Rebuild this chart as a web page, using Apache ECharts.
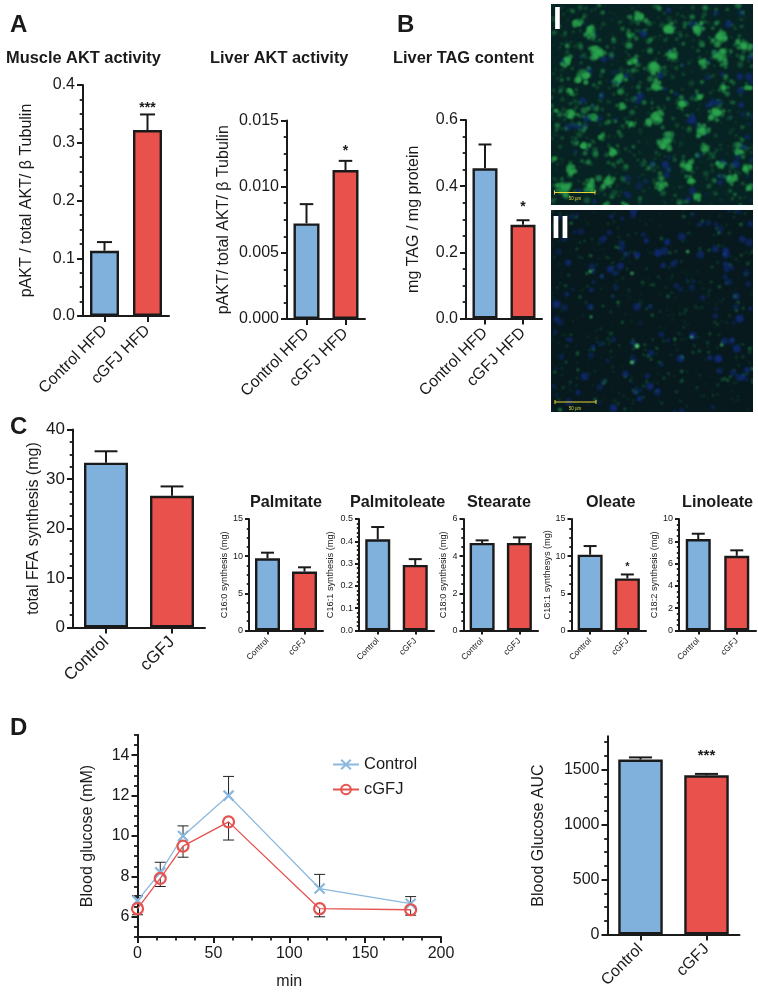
<!DOCTYPE html>
<html>
<head>
<meta charset="utf-8">
<style>html,body{margin:0;padding:0;background:#fff}#chart{width:758px;height:996px}</style>
<script src="https://cdn.jsdelivr.net/npm/echarts@6/dist/echarts.min.js"></script>
</head>
<body>
<div id="chart"></div>
<script>
// ---------- data ----------
const catHFD = ['Control HFD', 'cGFJ HFD'];
const catShort = ['Control', 'cGFJ'];

const muscleMean = [0.113, 0.322];   const muscleTop = [0.128, 0.349];   const muscleSig = ['', '***'];
const liverMean = [0.00722, 0.01125]; const liverTop = [0.00868, 0.01195]; const liverSig = ['', '*'];
const tagMean = [0.454, 0.283];      const tagTop = [0.526, 0.297];      const tagSig = ['', '*'];
const ffaMean = [33.3, 26.6];        const ffaTop = [35.6, 28.5];        const ffaSig = ['', ''];
const palmitateMean = [9.72, 7.93];  const palmitateTop = [10.47, 8.5];  const palmitateSig = ['', ''];
const palmitoleateMean = [0.409, 0.294]; const palmitoleateTop = [0.464, 0.32]; const palmitoleateSig = ['', ''];
const stearateMean = [4.71, 4.71];   const stearateTop = [4.85, 5.01];   const stearateSig = ['', ''];
const oleateMean = [10.2, 7.0];      const oleateTop = [11.36, 7.54];    const oleateSig = ['', '*'];
const linoleateMean = [8.2, 6.7];    const linoleateTop = [8.68, 7.19];  const linoleateSig = ['', ''];
const aucMean = [1590, 1447];        const aucTop = [1610, 1460];        const aucSig = ['', '***'];

const minutes = [0, 15, 30, 60, 120, 180];
const glucoseControl = [6.8, 8.2, 10.0, 12.0, 7.4, 6.65];
const glucoseControlUpper = [7.05, 8.7, 10.5, 12.95, 8.1, 7.0];
const glucoseCGFJ = [6.4, 7.9, 9.5, 10.7, 6.4, 6.35];
const glucoseCGFJLower = [6.1, 7.5, 8.95, 9.8, 6.0, 6.08];

const glucoseMajorTicks = [6, 8, 10, 12, 14];
const glucoseMinorTicks = [5, 5.5, 6.5, 7, 7.5, 8.5, 9, 9.5, 10.5, 11, 11.5, 12.5, 13, 13.5, 14.5, 15];
const aucMajorTicks = [0, 500, 1000, 1500];
const aucMinorTicks = [125, 250, 375, 625, 750, 875, 1125, 1250, 1375, 1625, 1750];

// ---------- style ----------
const FONT = '"Liberation Sans", Arial, sans-serif';
const INK = '#1a1a1a';
const BLUE = '#7fb1dc';
const RED = '#e9524c';
const LINE_BLUE = '#8ab8df';
const LINE_RED = '#e5524f';

const grid = [], xAxis = [], yAxis = [], series = [], title = [];

function addTitle(text, left, top, size) {
  title.push({ text, left, top, padding: 0, textStyle: { fontFamily: FONT, fontWeight: 'bold', fontSize: size, color: INK, lineHeight: size } });
}

function axisBase(fs) {
  return {
    axisLine: { show: true, onZero: false, lineStyle: { color: INK, width: 2 } },
    axisLabel: { color: INK, fontFamily: FONT, fontSize: fs, margin: 6 },
    splitLine: { show: false }
  };
}

function barPanel(p) {
  const i = grid.length;
  const xId = xAxis.length, yId = yAxis.length;
  grid.push({ left: p.x0, top: p.y1, width: p.x1 - p.x0, height: p.y0 - p.y1, containLabel: false });
  const b = axisBase(p.fs);
  xAxis.push({
    type: 'category', gridIndex: i, data: p.cats,
    axisLine: b.axisLine,
    axisTick: { show: true, alignWithLabel: true, length: p.tick, lineStyle: { color: INK, width: 2 } },
    axisLabel: { color: INK, fontFamily: FONT, fontSize: p.xfs, rotate: 45, margin: p.xm, interval: 0 }
  });
  const dec = p.dec;
  yAxis.push({
    type: 'value', gridIndex: i, min: 0, max: p.max, position: 'left',
    interval: p.custom ? undefined : p.step,
    axisLine: b.axisLine,
    axisTick: p.custom ? { show: true, length: p.tick, customValues: p.custom.major, lineStyle: { color: INK, width: 2 } }
                       : { show: true, length: p.tick, lineStyle: { color: INK, width: 2 } },
    minorTick: p.custom ? { show: false } : { show: true, splitNumber: p.minor, length: p.tick * 0.55, lineStyle: { color: INK, width: 1.8 } },
    splitLine: { show: false },
    minorSplitLine: { show: false },
    axisLabel: Object.assign({}, b.axisLabel, { margin: p.ym, formatter: v => v.toFixed(dec) }, p.custom ? { customValues: p.custom.major } : {}),
    name: p.yname, nameLocation: 'middle', nameGap: p.nameGap, nameRotate: 90,
    nameTextStyle: { color: INK, fontFamily: FONT, fontSize: p.nfs }
  });
  if (p.custom) {
    yAxis.push({
      type: 'value', gridIndex: i, min: 0, max: p.max, position: 'left',
      axisLine: b.axisLine,
      axisTick: { show: true, length: p.tick * 0.55, customValues: p.custom.minor, lineStyle: { color: INK, width: 1.8 } },
      axisLabel: { show: false }, splitLine: { show: false }
    });
  }
  series.push({
    type: 'bar', xAxisIndex: xId, yAxisIndex: yId, barWidth: p.bw, z: 3,
    data: p.mean.map((v, k) => ({ value: v, itemStyle: { color: k === 0 ? BLUE : RED, borderColor: INK, borderWidth: 2.4 } }))
  });
  const cap = p.bw * 0.26;
  series.push({
    type: 'custom', xAxisIndex: xId, yAxisIndex: yId, z: 2,
    data: p.mean.map((v, k) => [k, v, p.top[k]]),
    encode: { x: 0, y: [1, 2] },
    renderItem: (params, api) => {
      const a = api.coord([api.value(0), api.value(1)]);
      const t = api.coord([api.value(0), api.value(2)]);
      const st = { stroke: INK, lineWidth: 2, fill: 'none' };
      const kids = [
        { type: 'line', shape: { x1: a[0], y1: a[1], x2: a[0], y2: t[1] }, style: st },
        { type: 'line', shape: { x1: a[0] - cap, y1: t[1], x2: a[0] + cap, y2: t[1] }, style: st }
      ];
      const s = p.sig[params.dataIndex];
      if (s) kids.push({ type: 'text', style: { text: s, x: a[0], y: t[1] + p.sigDy, align: 'center', verticalAlign: 'bottom', fill: INK, font: 'bold ' + p.sigFs + 'px ' + FONT } });
      return { type: 'group', children: kids };
    }
  });
}

const big = { fs: 16, xfs: 16, xm: 12, ym: 8, tick: 6, nfs: 16 };
barPanel(Object.assign({}, big, { x0: 83, x1: 169, y1: 85, y0: 316, cats: catHFD, max: 0.4, step: 0.1, minor: 4, dec: 1, bw: 29, mean: muscleMean, top: muscleTop, sig: muscleSig, sigDy: 1, sigFs: 14, yname: 'pAKT / total AKT/ β Tubulin', nameGap: 48 }));
barPanel(Object.assign({}, big, { x0: 287, x1: 365, y1: 120.5, y0: 319, cats: catHFD, max: 0.015, step: 0.005, minor: 4, dec: 3, bw: 26, mean: liverMean, top: liverTop, sig: liverSig, sigDy: -3, sigFs: 14, yname: 'pAKT/ total AKT/ β Tubulin', nameGap: 55 }));
barPanel(Object.assign({}, big, { x0: 466, x1: 542, y1: 120, y0: 318.5, cats: catHFD, max: 0.6, step: 0.2, minor: 4, dec: 1, bw: 25, mean: tagMean, top: tagTop, sig: tagSig, sigDy: -6, sigFs: 14, yname: 'mg TAG / mg protein', nameGap: 44 }));
barPanel(Object.assign({}, big, { x0: 73, x1: 205, y1: 429.5, y0: 627.5, cats: catShort, max: 40, step: 10, minor: 4, dec: 0, bw: 44, mean: ffaMean, top: ffaTop, sig: ffaSig, sigDy: 0, sigFs: 14, fs: 17, xfs: 17, yname: 'total FFA synthesis (mg)', nameGap: 31, nfs: 16 }));

const small = { fs: 9, xfs: 8.5, xm: 9, ym: 6, tick: 4, nfs: 9.2, cats: catShort, y1: 519, y0: 630.5, bw: 25 };
barPanel(Object.assign({}, small, { x0: 249, x1: 323, max: 15, step: 5, minor: 4, dec: 0, mean: palmitateMean, top: palmitateTop, sig: palmitateSig, sigDy: 0, sigFs: 9, yname: 'C16:0 synthesis (mg)', nameGap: 17.7 }));
barPanel(Object.assign({}, small, { x0: 359, x1: 434, max: 0.5, step: 0.1, minor: 5, dec: 1, mean: palmitoleateMean, top: palmitoleateTop, sig: palmitoleateSig, sigDy: 0, sigFs: 9, yname: 'C16:1 synthesis (mg)', nameGap: 23.7 }));
barPanel(Object.assign({}, small, { x0: 463.5, x1: 538, max: 6, step: 2, minor: 4, dec: 0, mean: stearateMean, top: stearateTop, sig: stearateSig, sigDy: 0, sigFs: 9, yname: 'C18:0 synthesis (mg)', nameGap: 16 }));
barPanel(Object.assign({}, small, { x0: 571.5, x1: 646, max: 15, step: 5, minor: 4, dec: 0, mean: oleateMean, top: oleateTop, sig: oleateSig, sigDy: -2, sigFs: 11, yname: 'C18:1 synthesys (mg)', nameGap: 15 }));
barPanel(Object.assign({}, small, { x0: 679, x1: 756, max: 10, step: 2, minor: 4, dec: 0, mean: linoleateMean, top: linoleateTop, sig: linoleateSig, sigDy: 0, sigFs: 9, yname: 'C18:2 synthesis (mg)', nameGap: 13.7 }));

barPanel(Object.assign({}, big, { x0: 607.5, x1: 739.5, y1: 736.5, y0: 934.5, cats: catShort, max: 1800, custom: { major: aucMajorTicks, minor: aucMinorTicks }, dec: 0, bw: 44.5, mean: aucMean, top: aucTop, sig: aucSig, sigDy: -11, sigFs: 15, fs: 16, xfs: 16, yname: 'Blood Glucose AUC', nameGap: 61 }));

// --- glucose time course ---
(function () {
  const i = grid.length, xId = xAxis.length, yId = yAxis.length;
  grid.push({ left: 137.5, top: 735, width: 303.5, height: 202, containLabel: false });
  const line = { show: true, onZero: false, lineStyle: { color: INK, width: 2 } };
  xAxis.push({
    type: 'value', gridIndex: i, min: 0, max: 200, interval: 50,
    axisLine: line,
    axisTick: { show: true, length: 6, lineStyle: { color: INK, width: 2 } },
    minorTick: { show: true, splitNumber: 4, length: 3.5, lineStyle: { color: INK, width: 1.8 } },
    axisLabel: { color: INK, fontFamily: FONT, fontSize: 16, margin: 9 },
    splitLine: { show: false }, minorSplitLine: { show: false },
    name: 'min', nameLocation: 'middle', nameGap: 37,
    nameTextStyle: { color: INK, fontFamily: FONT, fontSize: 16 }
  });
  yAxis.push({
    type: 'value', gridIndex: i, min: 5, max: 15, position: 'left',
    axisLine: line,
    axisTick: { show: true, length: 6, customValues: glucoseMajorTicks, lineStyle: { color: INK, width: 2 } },
    axisLabel: { color: INK, fontFamily: FONT, fontSize: 16, margin: 8, customValues: glucoseMajorTicks },
    splitLine: { show: false },
    name: 'Blood glucose (mM)', nameLocation: 'middle', nameGap: 41.5,
    nameTextStyle: { color: INK, fontFamily: FONT, fontSize: 16 }
  });
  yAxis.push({
    type: 'value', gridIndex: i, min: 5, max: 15, position: 'left',
    axisLine: line,
    axisTick: { show: true, length: 3.5, customValues: glucoseMinorTicks, lineStyle: { color: INK, width: 1.8 } },
    axisLabel: { show: false }, splitLine: { show: false }
  });
  const errSeries = (mid, end) => ({
    type: 'custom', xAxisIndex: xId, yAxisIndex: yId, z: 2, tooltip: { show: false },
    data: minutes.map((m, k) => [m, mid[k], end[k]]),
    encode: { x: 0, y: [1, 2] },
    renderItem: (params, api) => {
      const a = api.coord([api.value(0), api.value(1)]);
      const t = api.coord([api.value(0), api.value(2)]);
      const st = { stroke: '#222', lineWidth: 1, fill: 'none' };
      return { type: 'group', children: [
        { type: 'line', shape: { x1: a[0], y1: a[1], x2: a[0], y2: t[1] }, style: st },
        { type: 'line', shape: { x1: a[0] - 5.5, y1: t[1], x2: a[0] + 5.5, y2: t[1] }, style: st }
      ] };
    }
  });
  series.push(errSeries(glucoseControl, glucoseControlUpper));
  series.push(errSeries(glucoseCGFJ, glucoseCGFJLower));
  series.push({
    name: 'Control', type: 'line', xAxisIndex: xId, yAxisIndex: yId, z: 3,
    data: minutes.map((m, k) => [m, glucoseControl[k]]),
    symbol: 'path://M0 0L10 10M10 0L0 10', symbolSize: 10,
    lineStyle: { color: LINE_BLUE, width: 1.3 },
    itemStyle: { color: 'rgba(0,0,0,0)', borderColor: LINE_BLUE, borderWidth: 2.2 },
    emphasis: { disabled: true }
  });
  series.push({
    name: 'cGFJ', type: 'line', xAxisIndex: xId, yAxisIndex: yId, z: 4,
    data: minutes.map((m, k) => [m, glucoseCGFJ[k]]),
    symbol: 'circle', symbolSize: 11,
    lineStyle: { color: LINE_RED, width: 1.3 },
    itemStyle: { color: 'rgba(0,0,0,0)', borderColor: LINE_RED, borderWidth: 2.2 },
    emphasis: { disabled: true }
  });
})();

// --- panel letters and headings ---
addTitle('A', 10, 13, 24);
addTitle('B', 397, 13, 24);
addTitle('C', 10, 415, 24);
addTitle('D', 10, 716, 24);
addTitle('Muscle AKT activity', 6, 50, 16.4);
addTitle('Liver AKT activity', 210, 50, 16.4);
addTitle('Liver TAG content', 393, 50, 16.4);
addTitle('Palmitate', 250, 494, 16.2);
addTitle('Palmitoleate', 350, 494, 16.2);
addTitle('Stearate', 467, 494, 16.2);
addTitle('Oleate', 586, 494, 16.2);
addTitle('Linoleate', 682, 494, 16.2);

// --- micrographs: a painted stand-in for the two photographs (texture only, not chart data) ---
const photoIBlobs = [[440,75,22],[350,75,22],[265,40,20],[120,80,20],[235,95,12],[80,55,15],[510,100,25],[580,125,22],[510,160,22],[455,178,16],[365,155,18],[140,145,25],[48,168,18],[248,170,16],[305,190,25],[95,212,24],[205,222,20],[315,245,20],[515,250,14],[590,250,12],[212,305,14],[392,300,16],[495,325,22],[445,280,12],[318,345,26],[240,360,13],[452,378,22],[345,415,24],[460,430,16],[562,443,14],[185,445,16],[100,425,14],[10,465,10],[410,488,20],[330,543,20],[172,533,20],[118,545,20],[35,550,25],[585,495,16],[510,485,14],[540,525,18],[440,575,14],[595,550,14],[60,330,18],[130,340,12],[15,320,8],[60,265,12],[60,495,20],[150,400,12],[420,530,14],[225,605,12],[165,605,12]];
const photoIIDots = [[258,423,5],[243,472,4],[422,396,3],[243,205,3],[512,420,3],[410,140,3],[120,336,2.5],[118,200,3]];

function texture(seed) {
  let s = seed;
  return () => (s = (s * 16807) % 2147483647) / 2147483647;
}
function paintPhoto(w, h, bg, blueN, blueR, greenN, greenR, greenA, blobs, dots) {
  const c = document.createElement('canvas');
  c.width = w; c.height = h;
  const g = c.getContext('2d');
  const r = texture(w * 131 + greenN);
  g.fillStyle = bg; g.fillRect(0, 0, w, h);
  g.filter = 'blur(0.8px)';
  const dot = (x, y, rad, col) => { g.fillStyle = col; g.beginPath(); g.arc(x, y, rad, 0, 6.3); g.fill(); };
  for (let i = 0; i < blueN; i++) dot(r() * w, r() * h, blueR * (0.5 + r() * 0.7), 'rgba(18,45,135,' + (0.35 + r() * 0.4) + ')');
  for (let i = 0; i < greenN; i++) dot(r() * w, r() * h, greenR * (0.4 + r() * r() * 1.6), 'rgba(35,145,75,' + greenA * (0.3 + r() * 0.7) + ')');
  blobs.forEach(b => {
    const R = b[2] / 3;
    dot(b[0] / 3, b[1] / 3, R * 0.7, 'rgba(30,135,65,0.75)');
    for (let k = 0; k < 12; k++) {
      const a = r() * 6.3, d = R * r() * 1.1;
      dot(b[0] / 3 + Math.cos(a) * d, b[1] / 3 + Math.sin(a) * d, R * (0.15 + r() * 0.25), 'rgba(45,165,80,0.75)');
    }
  });
  dots.forEach(d => dot(d[0] / 3, (d[1] - 15) / 3, d[2] / 2.2, 'rgba(90,230,120,0.95)'));
  return c;
}
const photoI = paintPhoto(202, 201, '#072222', 100, 3.2, 800, 1.75, 0.75, photoIBlobs, []);
const photoII = paintPhoto(202, 202, '#07191d', 140, 3.3, 620, 0.95, 1, [], photoIIDots);

const SCALE = '#e6d23a';
const graphic = [
  { type: 'image', x: 551, y: 4, style: { image: photoI, width: 202, height: 201 } },
  { type: 'image', x: 551, y: 210, style: { image: photoII, width: 202, height: 202 } },
  { type: 'text', x: 557.5, y: 20, style: { text: 'I', fill: '#fff', font: 'bold 32px ' + FONT, align: 'center', verticalAlign: 'middle' } },
  { type: 'text', x: 560.5, y: 229, style: { text: 'II', fill: '#fff', font: 'bold 32px ' + FONT, align: 'center', verticalAlign: 'middle' } },
  { type: 'line', shape: { x1: 554.5, y1: 192.5, x2: 595, y2: 192.5 }, style: { stroke: SCALE, lineWidth: 1.2 } },
  { type: 'line', shape: { x1: 554.5, y1: 190.5, x2: 554.5, y2: 194.5 }, style: { stroke: SCALE, lineWidth: 1 } },
  { type: 'line', shape: { x1: 595, y1: 190.5, x2: 595, y2: 194.5 }, style: { stroke: SCALE, lineWidth: 1 } },
  { type: 'text', x: 575, y: 199, style: { text: '50 µm', fill: SCALE, font: '4.5px ' + FONT, align: 'center', verticalAlign: 'middle' } },
  { type: 'line', shape: { x1: 555, y1: 402, x2: 596, y2: 402 }, style: { stroke: SCALE, lineWidth: 1.2 } },
  { type: 'line', shape: { x1: 555, y1: 400, x2: 555, y2: 404 }, style: { stroke: SCALE, lineWidth: 1 } },
  { type: 'line', shape: { x1: 596, y1: 400, x2: 596, y2: 404 }, style: { stroke: SCALE, lineWidth: 1 } },
  { type: 'text', x: 575, y: 408.5, style: { text: '50 µm', fill: SCALE, font: '4.5px ' + FONT, align: 'center', verticalAlign: 'middle' } }
];

const chart = echarts.init(document.getElementById('chart'), null, { renderer: 'canvas', width: 758, height: 996 });
chart.setOption({
  animation: false,
  backgroundColor: '#fff',
  title, grid, xAxis, yAxis, series, graphic,
  legend: {
    data: ['Control', 'cGFJ'], orient: 'vertical', left: 327, top: 751, itemWidth: 26, itemHeight: 12, itemGap: 8,
    textStyle: { color: INK, fontFamily: FONT, fontSize: 16.5 }, selectedMode: false
  }
});
</script>
</body>
</html>
